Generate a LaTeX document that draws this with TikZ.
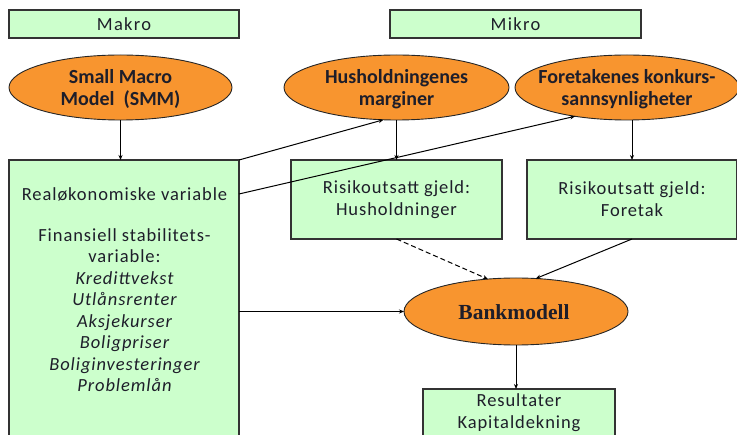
\documentclass[tikz,border=0pt]{standalone}
\usepackage{fontspec}
\setmainfont{Carlito}
\newfontfamily\boxfont{Carlito}[LetterSpace=5]
\newfontfamily\headfont{Carlito}[LetterSpace=7]
\newfontfamily\bankfont{Liberation Serif}
\usetikzlibrary{shapes.geometric,arrows.meta}

\definecolor{boxgreen}{HTML}{CCFFCC}
\definecolor{ovalorange}{HTML}{F8952F}
\definecolor{ink}{HTML}{1E1E2A}

\tikzset{
  box/.style={draw=black!80, line width=1.1pt, fill=boxgreen, inner sep=0pt, outer sep=0pt},
  oval/.style={ellipse, draw=black!85, line width=0.9pt, fill=ovalorange, inner sep=0pt, outer sep=0pt},
  ovaltext/.style={align=center, text=ink, font=\fontsize{20}{22}\selectfont\bfseries, yshift=-1.5pt},
  boxtext/.style={align=center, text=ink, font=\boxfont\fontsize{18.5}{21.5}\selectfont},
  headtext/.style={text=ink, font=\headfont\fontsize{18.5}{20}\selectfont},
  conn/.style={line width=1pt, -{Stealth[length=5pt,width=4pt]}},
}

\begin{document}
\begin{tikzpicture}[x=1pt, y=-1pt]
  \useasboundingbox (0,0) rectangle (737,435);
  \clip (0,0) rectangle (737,435);

  % column headings
  \node[box, minimum width=230, minimum height=28] (makro) at (124,24) {};
  \node[headtext] (makrotxt) at (makro) {Makro};
  \node[box, minimum width=251, minimum height=28] (mikro) at (515.5,24) {};
  \node[headtext] (mikrotxt) at (mikro) {Mikro};

  % model ovals
  \node[oval, minimum width=223, minimum height=65] (smm) at (120.5,87.5) {};
  \node[ovaltext] (smmtxt) at (smm) {Small Macro\\Model\ \ (SMM)};
  \node[oval, minimum width=225, minimum height=65] (hh) at (396.5,87.5) {};
  \node[ovaltext] (hhtxt) at (hh) {Husholdningenes\\marginer};
  \node[oval, minimum width=224, minimum height=65] (fr) at (627,87.5) {};
  \node[ovaltext] (frtxt) at (fr) {Foretakenes konkurs-\\sannsynligheter};

  % variable boxes
  \node[box, minimum width=230, minimum height=300] (real) at (124,310) {};
  \node[boxtext] (realtxt) at (124.5,194) {Realøkonomiske variable};
  \node[boxtext] (fintxt) at (124.5,310) {Finansiell stabilitets-\\variable:\\
    \itshape Kredittvekst\\ \itshape Utlånsrenter\\ \itshape Aksjekurser\\
    \itshape Boligpriser\\ \itshape Boliginvesteringer\\ \itshape Problemlån};

  \node[box, minimum width=211, minimum height=79] (hhbox) at (396.5,199.5) {};
  \node[boxtext, font=\boxfont\fontsize{18.5}{22}\selectfont] (hhboxtxt) at (hhbox) {Risikoutsatt gjeld:\\Husholdninger};
  \node[box, minimum width=210, minimum height=79] (frbox) at (632,199.5) {};
  \node[boxtext, font=\boxfont\fontsize{18.5}{22}\selectfont] (frboxtxt) at (frbox) {Risikoutsatt gjeld:\\Foretak};

  % bank model and results
  \node[oval, minimum width=224, minimum height=67] (bank) at (516,311.5) {};
  \node[text=ink, font=\bankfont\fontsize{21.5}{24}\selectfont\bfseries] (banktxt) at (514,312) {Bankmodell};
  \node[box, minimum width=192, minimum height=71] (res) at (519,424.5) {};
  \node[boxtext, font=\boxfont\fontsize{18.5}{22}\selectfont] (restxt) at (519,413) {Resultater\\Kapitaldekning};

  % connectors
  \draw[conn] (smm.south) -- (smm.south |- real.north);
  \draw[conn] (hh.south) -- (hh.south |- hhbox.north);
  \draw[conn] (frbox.north |- fr.south) -- (frbox.north);
  \draw[conn] (real.north east) -- (hh.248);
  \draw[conn] (real.east |- realtxt.east) -- (fr.209);
  \draw[conn, dashed, dash pattern=on 5pt off 3pt] (hhbox.south) -- (bank.131);
  \draw[conn] (frbox.south) -- (bank.59.5);
  \draw[conn] (real.east |- bank.west) -- (bank.west);
  \draw[conn] (bank.south) -- (bank.south |- res.north);
\end{tikzpicture}
\end{document}
